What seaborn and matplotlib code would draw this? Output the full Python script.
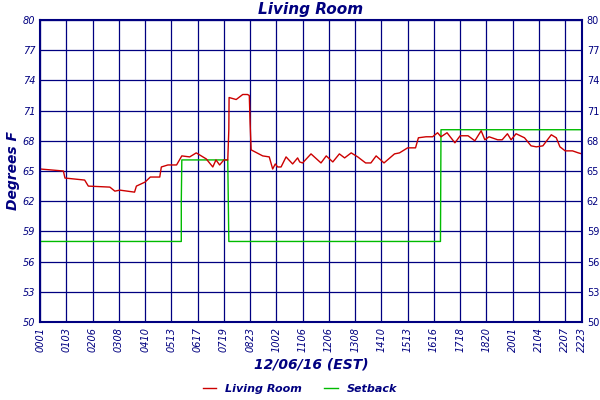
import matplotlib
matplotlib.use("Agg")
import matplotlib.pyplot as plt
import seaborn as sns
import pandas as pd

NAVY = "#000080"

tick_labels = ["0001", "0103", "0206", "0308", "0410", "0513", "0617", "0719", "0823",
               "1002", "1106", "1206", "1308", "1410", "1513", "1616", "1718", "1820",
               "2001", "2104", "2207", "2223"]
tick_pos = list(range(21)) + [20.64]

room_x = [0, 0.89, 0.95, 1.7, 1.84, 2.66, 2.85, 3.04, 3.6, 3.67, 4.0, 4.2, 4.56, 4.62,
          4.87, 5.2, 5.4, 5.7, 5.95, 6.33, 6.58, 6.7, 6.84, 7.0, 7.15, 7.19, 7.2, 7.47,
          7.72, 7.9, 7.97, 8.0, 8.04, 8.48, 8.73, 8.86, 8.96, 9.05, 9.18, 9.37, 9.62,
          9.81, 9.89, 10.0, 10.32, 10.7, 10.9, 11.15, 11.4, 11.6, 11.85, 12.1, 12.4,
          12.6, 12.8, 13.1, 13.5, 13.69, 14.0, 14.3, 14.41, 14.7, 14.95, 15.14, 15.27,
          15.5, 15.8, 16.0, 16.3, 16.56, 16.8, 16.94, 17.1, 17.43, 17.6, 17.8, 17.94,
          18.13, 18.45, 18.7, 18.9, 19.15, 19.47, 19.66, 19.8, 20.0, 20.28, 20.5, 20.64]
room_y = [65.2, 65.0, 64.3, 64.1, 63.5, 63.4, 63.0, 63.1, 62.9, 63.5, 63.9, 64.4, 64.4,
          65.4, 65.6, 65.6, 66.5, 66.4, 66.8, 66.2, 65.4, 66.1, 65.6, 66.1, 66.1, 69.1,
          72.3, 72.1, 72.6, 72.6, 72.5, 69.8, 67.1, 66.5, 66.4, 65.2, 65.7, 65.4, 65.4,
          66.4, 65.7, 66.3, 65.9, 65.8, 66.7, 65.8, 66.5, 65.9, 66.7, 66.3, 66.8, 66.4,
          65.8, 65.8, 66.5, 65.8, 66.7, 66.8, 67.3, 67.3, 68.3, 68.4, 68.4, 68.8, 68.4,
          68.8, 67.8, 68.5, 68.5, 68.0, 69.0, 68.1, 68.4, 68.1, 68.1, 68.7, 68.1, 68.7,
          68.3, 67.5, 67.4, 67.5, 68.6, 68.3, 67.4, 67.0, 67.0, 66.8, 66.7]

setback_x = [0, 5.38, 5.38, 5.40, 7.15, 7.17, 7.19, 15.25, 15.26, 15.27, 20.64]
setback_y = [58.0, 58.0, 62.0, 66.1, 66.1, 62.0, 58.0, 58.0, 63.5, 69.1, 69.1]

room = pd.DataFrame({"x": room_x, "y": room_y})
setback = pd.DataFrame({"x": setback_x, "y": setback_y})

fig = plt.figure(figsize=(6, 4), dpi=100)
ax = fig.add_axes([0.0667, 0.195, 0.9033, 0.755])
sns.lineplot(data=setback, x="x", y="y", ax=ax, color="#00bb00", lw=1.0,
             sort=False, estimator=None, label="Setback")
sns.lineplot(data=room, x="x", y="y", ax=ax, color="#cc0000", lw=1.0,
             sort=False, estimator=None, label="Living Room")

ax.set_xlim(0, 20.64)
ax.set_ylim(50, 80)
ax.set_yticks(list(range(50, 81, 3)))
ax.set_xticks(tick_pos)
ax.set_xticklabels(tick_labels, rotation=90)
ax.grid(True, color=NAVY, lw=0.9)
ax.set_axisbelow(True)
for s in ax.spines.values():
    s.set_color(NAVY)
    s.set_linewidth(1.5)
ax.tick_params(colors=NAVY, length=0, labelsize=7)
for t in ax.get_xticklabels() + ax.get_yticklabels():
    t.set_fontstyle("italic")
ax.tick_params(axis="y", labelright=True, right=True)
ax.set_xlabel("12/06/16 (EST)", color=NAVY, fontsize=10, fontweight="bold", style="italic")
ax.set_ylabel("Degrees F", color=NAVY, fontsize=10, fontweight="bold", style="italic", labelpad=2)
ax.set_title("Living Room", color=NAVY, fontsize=11, fontweight="bold", style="italic", pad=4)

h, l = ax.get_legend_handles_labels()
leg = fig.legend(h[::-1], l[::-1], loc="lower center", ncol=2, frameon=False,
                 bbox_to_anchor=(0.5, -0.01), handlelength=1.2, columnspacing=2,
                 prop={"size": 8, "weight": "bold", "style": "italic"})
for t in leg.get_texts():
    t.set_color(NAVY)
ax.get_legend().remove()

fig.savefig("out.png", dpi=100)
